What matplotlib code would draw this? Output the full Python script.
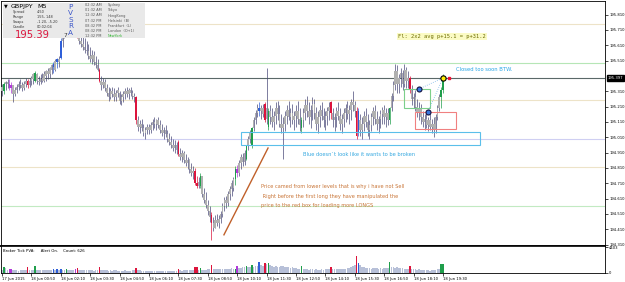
import numpy as np
import matplotlib.pyplot as plt
from matplotlib.patches import Rectangle

# GBPJPY M5, 17 Jun 23:30 -> 18 Jun 19:30, one row = 16 bars (80 min)
highs = [
    195.36, 195.37, 195.38, 195.39, 195.39, 195.37, 195.35, 195.34, 195.36, 195.38, 195.39, 195.37, 195.38, 195.40, 195.39, 195.40,
    195.41, 195.43, 195.44, 195.43, 195.41, 195.42, 195.43, 195.44, 195.45, 195.46, 195.47, 195.49, 195.50, 195.52, 195.53, 195.54,
    195.66, 195.72, 195.78, 195.83, 195.86, 195.88, 195.85, 195.82, 195.80, 195.78, 195.74, 195.70, 195.68, 195.66, 195.64, 195.62,
    195.60, 195.58, 195.57, 195.54, 195.52, 195.46, 195.41, 195.40, 195.39, 195.36, 195.34, 195.33, 195.34, 195.33, 195.32, 195.34,
    195.31, 195.29, 195.31, 195.33, 195.34, 195.33, 195.34, 195.32, 195.30, 195.28, 195.15, 195.12, 195.13, 195.10, 195.08, 195.10,
    195.10, 195.11, 195.13, 195.14, 195.13, 195.14, 195.12, 195.10, 195.08, 195.09, 195.06, 195.04, 195.02, 195.00, 194.99, 194.98,
    194.99, 194.94, 194.93, 194.92, 194.90, 194.88, 194.87, 194.84, 194.82, 194.81, 194.76, 194.75, 194.78, 194.76, 194.68, 194.65,
    194.60, 194.56, 194.52, 194.49, 194.50, 194.51, 194.50, 194.53, 194.58, 194.62, 194.63, 194.66, 194.69, 194.73, 194.75, 194.82,
    194.83, 194.86, 194.90, 194.91, 194.93, 194.96, 195.02, 195.06, 195.08, 195.14, 195.19, 195.23, 195.24, 195.22, 195.23, 195.24,
    195.46, 195.20, 195.22, 195.20, 195.18, 195.24, 195.25, 195.22, 195.16, 195.14, 195.18, 195.22, 195.25, 195.20, 195.23, 195.18,
    195.22, 195.25, 195.20, 195.14, 195.20, 195.26, 195.28, 195.24, 195.22, 195.27, 195.26, 195.21, 195.18, 195.22, 195.24, 195.20,
    195.18, 195.21, 195.24, 195.25, 195.20, 195.17, 195.21, 195.24, 195.20, 195.16, 195.20, 195.23, 195.25, 195.22, 195.26, 195.31,
    195.25, 195.21, 195.20, 195.16, 195.14, 195.18, 195.20, 195.16, 195.12, 195.17, 195.21, 195.22, 195.18, 195.15, 195.19, 195.21,
    195.22, 195.20, 195.20, 195.21, 195.30, 195.38, 195.49, 195.48, 195.42, 195.46, 195.45, 195.49, 195.47, 195.44, 195.41, 195.35,
    195.30, 195.32, 195.26, 195.24, 195.23, 195.18, 195.16, 195.17, 195.14, 195.16, 195.13, 195.14, 195.16, 195.22, 195.29, 195.34,
    195.42,
]
lows = [
    195.28, 195.29, 195.32, 195.33, 195.32, 195.30, 195.24, 195.28, 195.30, 195.32, 195.33, 195.31, 195.32, 195.34, 195.33, 195.34,
    195.35, 195.36, 195.37, 195.36, 195.35, 195.36, 195.37, 195.37, 195.38, 195.39, 195.40, 195.42, 195.43, 195.44, 195.46, 195.47,
    195.52, 195.60, 195.66, 195.72, 195.76, 195.78, 195.74, 195.70, 195.68, 195.66, 195.62, 195.60, 195.58, 195.56, 195.55, 195.52,
    195.50, 195.49, 195.48, 195.46, 195.44, 195.37, 195.32, 195.33, 195.31, 195.28, 195.25, 195.26, 195.27, 195.25, 195.25, 195.27,
    195.23, 195.22, 195.24, 195.26, 195.27, 195.26, 195.28, 195.26, 195.24, 195.10, 195.05, 195.04, 195.05, 195.02, 195.00, 195.03,
    195.03, 195.04, 195.06, 195.07, 195.06, 195.07, 195.04, 195.02, 195.00, 195.01, 194.98, 194.96, 194.94, 194.92, 194.91, 194.90,
    194.89, 194.86, 194.85, 194.84, 194.82, 194.80, 194.78, 194.76, 194.74, 194.70, 194.68, 194.68, 194.68, 194.62, 194.58, 194.55,
    194.50, 194.46, 194.34, 194.40, 194.42, 194.43, 194.42, 194.45, 194.49, 194.53, 194.55, 194.56, 194.60, 194.63, 194.66, 194.70,
    194.75, 194.76, 194.80, 194.82, 194.83, 194.86, 194.93, 194.97, 194.94, 195.05, 195.10, 195.14, 195.15, 195.13, 195.14, 195.11,
    195.10, 195.06, 195.10, 195.08, 195.06, 195.10, 195.12, 195.08, 195.04, 194.87, 195.05, 195.10, 195.12, 195.08, 195.10, 195.06,
    195.08, 195.10, 195.05, 195.04, 195.08, 195.12, 195.14, 195.10, 195.07, 195.12, 195.13, 195.06, 195.04, 195.08, 195.12, 195.08,
    195.06, 195.09, 195.12, 195.13, 195.08, 195.05, 195.08, 195.12, 195.06, 195.04, 195.08, 195.11, 195.13, 195.10, 195.12, 195.18,
    195.14, 195.00, 195.02, 195.02, 195.00, 195.05, 195.08, 195.02, 195.00, 195.05, 195.09, 195.10, 195.06, 195.04, 195.07, 195.10,
    195.10, 195.08, 195.09, 195.10, 195.18, 195.25, 195.32, 195.30, 195.30, 195.34, 195.32, 195.34, 195.33, 195.33, 195.30, 195.22,
    195.20, 195.18, 195.14, 195.12, 195.10, 195.08, 195.06, 195.07, 195.05, 195.06, 195.04, 195.01, 195.04, 195.12, 195.18, 195.20,
    195.30,
]
opens = [
    195.31, 195.31, 195.36, 195.37, 195.36, 195.33, 195.35, 195.29, 195.32, 195.34, 195.36, 195.35, 195.33, 195.36, 195.38, 195.35,
    195.38, 195.39, 195.38, 195.42, 195.38, 195.37, 195.40, 195.38, 195.41, 195.44, 195.42, 195.45, 195.47, 195.45, 195.50, 195.52,
    195.53, 195.64, 195.70, 195.75, 195.80, 195.82, 195.80, 195.76, 195.72, 195.74, 195.69, 195.64, 195.62, 195.60, 195.58, 195.57,
    195.54, 195.52, 195.55, 195.50, 195.48, 195.45, 195.38, 195.35, 195.37, 195.33, 195.30, 195.27, 195.31, 195.29, 195.27, 195.30,
    195.30, 195.25, 195.27, 195.29, 195.31, 195.29, 195.32, 195.30, 195.28, 195.27, 195.12, 195.08, 195.10, 195.07, 195.04, 195.06,
    195.08, 195.06, 195.09, 195.11, 195.10, 195.12, 195.09, 195.06, 195.04, 195.06, 195.03, 195.00, 194.98, 194.96, 194.94, 194.96,
    194.98, 194.90, 194.88, 194.91, 194.86, 194.84, 194.86, 194.80, 194.78, 194.79, 194.71, 194.69, 194.69, 194.76, 194.64, 194.60,
    194.57, 194.53, 194.50, 194.45, 194.42, 194.47, 194.45, 194.48, 194.51, 194.56, 194.60, 194.58, 194.64, 194.67, 194.68, 194.74,
    194.80, 194.78, 194.84, 194.88, 194.85, 194.87, 194.95, 195.00, 194.96, 195.07, 195.12, 195.17, 195.20, 195.18, 195.20, 195.23,
    195.13, 195.08, 195.18, 195.14, 195.11, 195.15, 195.20, 195.16, 195.10, 195.07, 195.10, 195.15, 195.19, 195.14, 195.17, 195.12,
    195.15, 195.18, 195.13, 195.07, 195.12, 195.17, 195.22, 195.18, 195.14, 195.19, 195.23, 195.17, 195.10, 195.14, 195.19, 195.15,
    195.12, 195.15, 195.18, 195.24, 195.17, 195.12, 195.14, 195.18, 195.15, 195.10, 195.13, 195.17, 195.20, 195.16, 195.19, 195.24,
    195.22, 195.18, 195.04, 195.12, 195.06, 195.10, 195.15, 195.11, 195.06, 195.09, 195.14, 195.18, 195.13, 195.10, 195.13, 195.16,
    195.19, 195.14, 195.17, 195.12, 195.20, 195.28, 195.35, 195.44, 195.36, 195.40, 195.43, 195.36, 195.45, 195.38, 195.40, 195.32,
    195.26, 195.27, 195.21, 195.17, 195.20, 195.14, 195.11, 195.13, 195.09, 195.12, 195.08, 195.10, 195.06, 195.14, 195.20, 195.27,
    195.32,
]
closes = [
    195.34, 195.36, 195.37, 195.36, 195.33, 195.35, 195.29, 195.32, 195.34, 195.36, 195.35, 195.33, 195.36, 195.38, 195.35, 195.38,
    195.40, 195.42, 195.43, 195.38, 195.37, 195.40, 195.38, 195.42, 195.44, 195.42, 195.46, 195.48, 195.49, 195.51, 195.52, 195.50,
    195.64, 195.70, 195.75, 195.80, 195.82, 195.80, 195.76, 195.72, 195.74, 195.69, 195.64, 195.62, 195.60, 195.58, 195.57, 195.54,
    195.52, 195.55, 195.50, 195.48, 195.45, 195.38, 195.35, 195.37, 195.33, 195.30, 195.27, 195.31, 195.29, 195.27, 195.30, 195.32,
    195.25, 195.27, 195.29, 195.31, 195.29, 195.32, 195.30, 195.28, 195.27, 195.12, 195.08, 195.10, 195.07, 195.04, 195.06, 195.08,
    195.06, 195.09, 195.11, 195.10, 195.12, 195.09, 195.06, 195.04, 195.06, 195.03, 195.00, 194.98, 194.96, 194.94, 194.96, 194.93,
    194.90, 194.88, 194.91, 194.86, 194.84, 194.86, 194.80, 194.78, 194.79, 194.71, 194.69, 194.72, 194.76, 194.64, 194.60, 194.57,
    194.53, 194.49, 194.45, 194.42, 194.47, 194.45, 194.48, 194.51, 194.56, 194.60, 194.58, 194.64, 194.67, 194.71, 194.74, 194.80,
    194.78, 194.84, 194.88, 194.85, 194.91, 194.95, 195.00, 195.04, 195.07, 195.12, 195.17, 195.20, 195.18, 195.20, 195.16, 195.12,
    195.20, 195.18, 195.14, 195.11, 195.15, 195.20, 195.16, 195.10, 195.07, 195.10, 195.15, 195.19, 195.14, 195.17, 195.12, 195.15,
    195.18, 195.13, 195.09, 195.12, 195.17, 195.22, 195.18, 195.14, 195.19, 195.23, 195.17, 195.10, 195.14, 195.19, 195.15, 195.12,
    195.15, 195.18, 195.21, 195.17, 195.12, 195.14, 195.18, 195.15, 195.10, 195.13, 195.17, 195.20, 195.16, 195.19, 195.24, 195.22,
    195.18, 195.02, 195.18, 195.06, 195.10, 195.15, 195.11, 195.06, 195.09, 195.14, 195.18, 195.13, 195.10, 195.13, 195.16, 195.19,
    195.14, 195.17, 195.12, 195.20, 195.28, 195.35, 195.44, 195.36, 195.40, 195.43, 195.36, 195.45, 195.38, 195.40, 195.32, 195.26,
    195.27, 195.21, 195.17, 195.20, 195.14, 195.11, 195.13, 195.09, 195.12, 195.08, 195.10, 195.06, 195.14, 195.20, 195.27, 195.32,
    195.397,
]
volumes = [
    500, 1010, 850, 520, 760, 760, 510, 590, 500, 420, 510, 500, 520, 500, 1010, 520,
    480, 520, 1180, 560, 450, 500, 470, 430, 520, 480, 450, 500, 680, 470, 760, 520,
    620, 520, 460, 760, 480, 440, 470, 430, 760, 780, 520, 480, 460, 500, 470, 440,
    450, 480, 420, 500, 470, 1010, 560, 480, 440, 470, 420, 450, 400, 430, 460, 410,
    420, 380, 410, 440, 390, 420, 400, 430, 460, 850, 520, 440, 400, 380, 410, 360,
    380, 340, 360, 400, 350, 330, 370, 390, 410, 360, 380, 420, 400, 370, 390, 410,
    680, 430, 410, 450, 470, 440, 480, 460, 500, 1010, 1010, 520, 930, 540, 480, 500,
    620, 680, 1350, 760, 700, 650, 720, 600, 680, 740, 700, 660, 720, 780, 700, 760,
    1180, 820, 900, 950, 1020, 1270, 980, 1060, 1350, 1100, 1150, 1200, 1860, 1400, 1250, 1690,
    1520, 1770, 1300, 1180, 1100, 1240, 1050, 980, 1120, 1200, 1000, 940, 1060, 900, 980, 860,
    820, 760, 700, 1180, 680, 620, 700, 580, 640, 600, 560, 620, 580, 540, 600, 560,
    620, 660, 700, 1010, 640, 680, 720, 650, 700, 740, 680, 760, 820, 900, 1050, 1180,
    1350, 2960, 1770, 1350, 1100, 950, 880, 820, 900, 760, 820, 860, 780, 740, 800, 760,
    820, 780, 860, 1860, 1020, 960, 900, 940, 880, 820, 780, 740, 700, 760, 1180, 720,
    680, 620, 560, 600, 520, 480, 540, 460, 500, 420, 480, 560, 520, 600, 640, 1520,
    1500,
]
# PVSRA climax / rising volume bars: r red, g green, b blue, v violet
climax = {1: 'g', 4: 'v', 5: 'v', 14: 'r', 18: 'g', 28: 'b', 30: 'b', 32: 'b', 35: 'g',
          40: 'v', 41: 'r', 53: 'r', 73: 'r', 96: 'r', 105: 'r', 106: 'r', 108: 'g',
          114: 'r', 127: 'g', 128: 'v', 133: 'g', 136: 'g', 140: 'b', 143: 'r', 145: 'g',
          163: 'g', 179: 'r', 193: 'r', 194: 'b', 211: 'g', 222: 'r', 239: 'g', 240: 'g'}

time_labels = ['17 Jun 2015', '18 Jun 00:50', '18 Jun 02:10', '18 Jun 03:30', '18 Jun 04:50',
               '18 Jun 06:10', '18 Jun 07:30', '18 Jun 08:50', '18 Jun 10:10', '18 Jun 11:30',
               '18 Jun 12:50', '18 Jun 14:10', '18 Jun 15:30', '18 Jun 16:50', '18 Jun 18:10',
               '18 Jun 19:30']
price_ticks = [195.81, 195.71, 195.61, 195.51, 195.31, 195.21, 195.11, 195.01,
               194.91, 194.81, 194.71, 194.61, 194.51, 194.41, 194.31]
max_volume = 4403
tick_count = 626

sessions = [('02:32 AM', 'Sydney'), ('01:32 AM', 'Tokyo'), ('12:32 AM', 'HongKong'),
            ('07:32 PM', 'Helsinki  (B)'), ('08:32 PM', 'Frankfurt  (L)'),
            ('08:32 PM', 'London  (O+1)'), ('12:32 PM', 'NewYork')]
info_rows = [('Spread', '4.50'), ('Range', '155, 148'), ('Swaps', '-1.20, -5.20'), ('Candle', '00:02:04')]

o = np.array(opens); c = np.array(closes); h = np.array(highs); l = np.array(lows)
n = len(c)
idx = np.arange(n)

pal = {'r': '#dc143c', 'g': '#1f9e4b', 'b': '#2f5fd8', 'v': '#b03ad8'}
wick_cols = [pal.get(climax.get(i), '#4a4a78') for i in idx]
body_cols = [pal.get(climax.get(i), '#b0b0b0') for i in idx]
vol_cols = [pal.get(climax.get(i), '#b7c0d8') for i in idx]

fig = plt.figure(figsize=(6.25, 2.82), dpi=100)
fig.patch.set_facecolor('white')
ax = fig.add_axes([1/625, 1-246/282, 604/625, 245/282])
axv = fig.add_axes([1/625, 1-273/282, 604/625, 27/282])

xlim = (-0.54, 328.2)

# level lines
for lvl, col in [(195.749, '#ede3c8'), (195.497, '#b6e6b6'), (195.254, '#ede3c8'),
                 (195.0, '#cfcff2'), (194.818, '#ede3c8'), (194.562, '#c2eac2')]:
    ax.axhline(lvl, color=col, lw=0.8, zorder=0.5)
ax.axhline(c[-1], color='#5a6868', lw=0.8, zorder=0.6)

# bars
ax.vlines(idx, l, h, colors=wick_cols, lw=0.5, zorder=2)
ax.bar(idx, np.maximum(np.abs(c - o), 0.004), bottom=np.minimum(o, c), width=0.85,
       color=body_cols, lw=0, zorder=3)

# boxes and notes
ax.add_patch(Rectangle((130, 194.96), 130, 0.085, fill=False, ec='#5bbfea', lw=0.8, zorder=4))
ax.add_patch(Rectangle((218.6, 195.20), 14.2, 0.125, fill=False, ec='#7ccf8a', lw=0.8, zorder=4))
ax.add_patch(Rectangle((225, 195.065), 22, 0.11, fill=False, ec='#f08080', lw=0.8, zorder=4))
ax.plot([120.8, 144.8], [194.374, 194.94], color='#c0602a', lw=1.0, zorder=4)
ax.plot([226.9, 240], [195.325, c[-1]], color='#7fb8e8', lw=0.6, ls=':', zorder=4)
ax.plot([231.8, 240], [195.175, c[-1]], color='#7fb8e8', lw=0.6, ls=':', zorder=4)
ax.plot([226.9, 231.8], [195.325, 195.175], 'o', ms=3.6, mfc='#3a78e0', mec='#101040', mew=0.8, zorder=6)
ax.plot([240], [c[-1]], 'o', ms=3.8, mfc='#ffee00', mec='black', mew=0.8, zorder=6)
ax.plot([243.5], [c[-1]], 's', ms=1.6, mfc='#ee1133', mec='#ee1133', zorder=6)

ax.text(215.5, 195.668, 'Fl: 2x2 avg p+15.1 = p+31.2', fontsize=3.9, family='DejaVu Sans Mono',
        color='#6b6b00', va='center', ha='left', zorder=7,
        bbox=dict(boxstyle='square,pad=0.25', fc='#fbfbc4', ec='none'))
ax.text(247.1, 195.452, 'Closed too soon BTW.', fontsize=3.8, color='#2aa6e6', va='center', zorder=7)
ax.text(163.8, 194.898, 'Blue doesn`t look like it wants to be broken', fontsize=3.7,
        color='#35a8e0', va='center', zorder=7)
orange = '#c87436'
ax.text(141, 194.686, 'Price camed from lower levels that is why i have not Sell', fontsize=3.65,
        color=orange, va='center', zorder=7)
ax.text(141, 194.624, ' Right before the first long they have manipulated the', fontsize=3.65,
        color=orange, va='center', zorder=7)
ax.text(141, 194.566, 'price to the red box for loading more LONGS', fontsize=3.65,
        color=orange, va='center', zorder=7)

ax.set_xlim(*xlim)
ax.set_ylim(194.301, 195.899)
ax.set_xticks([])
ax.yaxis.tick_right()
ax.set_yticks(price_ticks)
ax.set_yticklabels(['%.3f' % t for t in price_ticks])
ax.tick_params(axis='y', labelsize=2.7, length=2, width=0.5, pad=1, colors='black')
for s in ax.spines.values():
    s.set_linewidth(0.6)
ax.spines['bottom'].set_linewidth(1.2)
ax.text(1.004, c[-1], '%.3f' % c[-1], transform=ax.get_yaxis_transform(), fontsize=2.7,
        color='white', va='center', ha='left', clip_on=False, zorder=10,
        bbox=dict(boxstyle='square,pad=0.2', fc='black', ec='black'))

# volume panel
axv.bar(idx, volumes, width=0.85, color=vol_cols, lw=0)
axv.set_xlim(*xlim)
axv.set_ylim(0, 4600)
axv.yaxis.tick_right()
axv.set_yticks([0, max_volume])
axv.set_yticklabels(['0', str(max_volume)])
axv.set_xticks(idx[::16])
axv.set_xticklabels(time_labels, ha='left')
axv.tick_params(labelsize=2.7, length=2, width=0.5, pad=1)
for s in axv.spines.values():
    s.set_linewidth(0.6)
axv.spines['top'].set_linewidth(1.2)
axv.text(0.004, 0.88, 'Broker Tick PVA:     Alert On.    Count: %d' % tick_count,
         transform=axv.transAxes, fontsize=2.8, va='top', ha='left')

# info panel overlay (pixel coordinates)
ov = fig.add_axes([0, 0, 1, 1])
ov.set_xlim(0, 625)
ov.set_ylim(282, 0)
ov.axis('off')
ov.add_patch(Rectangle((3, 3), 142, 35, fc='#e9e9e9', ec='none'))
ov.text(5.5, 5.5, '▼', fontsize=3.5, ha='center', va='center')
ov.text(11, 6.5, 'GBPJPY', fontsize=4.6, va='center')
ov.text(37, 6.5, 'M5', fontsize=4.6, va='center')
for k, (lab, val) in enumerate(info_rows):
    yy = 12.3 + k * 4.8
    ov.text(13, yy, lab, fontsize=2.5, color='#333333', va='center')
    ov.text(37, yy, val, fontsize=2.5, color='#333333', va='center')
ov.text(15, 34.5, '195.39', fontsize=7.2, color='#dc143c', va='center')
ov.text(63.5, 35.5, '7', fontsize=4.2, color='#333333', va='center')
for k, ch in enumerate('PVSRA'):
    ov.text(70.5, 6.7 + k * 6.6, ch, fontsize=5.2, color='#3a55c8', ha='center', va='center')
for k, (tm, city) in enumerate(sessions):
    yy = 5.2 + k * 5.15
    ov.text(85, yy, tm, fontsize=2.5, color='#555555', va='center')
    ov.text(107.5, yy, city, fontsize=2.5, va='center',
            color='#2fb52f' if city == 'NewYork' else '#555555')

fig.savefig('out.png', dpi=100)
